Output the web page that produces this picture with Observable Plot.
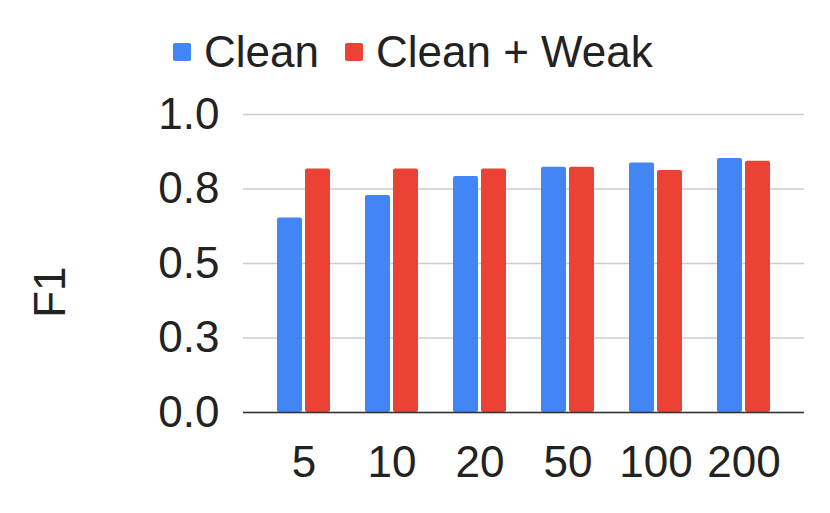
<!DOCTYPE html>
<html><head><meta charset="utf-8">
<script src="https://cdn.jsdelivr.net/npm/d3@7"></script>
<script src="https://cdn.jsdelivr.net/npm/@observablehq/plot@0.6"></script>
<style>
body{margin:0;background:#fff;font-family:Arial,"Liberation Sans",sans-serif;}
#legend{box-sizing:border-box;height:82px;padding-top:22px;padding-left:173px;display:flex;}
.item{display:flex;align-items:center;height:60px;margin-right:26px;}
.sw{width:18px;height:18px;border-radius:2px;margin-right:13px;}
.lab{font-size:44px;color:#222;line-height:60px;}
</style></head><body>
<div id="legend"></div>
<div id="chart"></div>
<script>
const groups = ["5","10","20","50","100","200"];
const seriesNames = ["Clean","Clean + Weak"];
const cleanValues = [0.653,0.728,0.792,0.823,0.837,0.852];
const weakValues  = [0.817,0.817,0.817,0.823,0.812,0.843];
const seriesColors = ["#4285F4","#EA4335"];
const yTicks = [0,0.25,0.5,0.75,1];
const yLabel = "F1";

const rows = [];
groups.forEach((g,i)=>{
  rows.push({group:g, series:seriesNames[0], value:cleanValues[i]});
  rows.push({group:g, series:seriesNames[1], value:weakValues[i]});
});

const legend = document.getElementById("legend");
seriesNames.forEach((s,i)=>{
  const it = document.createElement("div"); it.className="item";
  const sw = document.createElement("div"); sw.className="sw"; sw.style.background=seriesColors[i];
  const lb = document.createElement("span"); lb.className="lab"; lb.textContent=s;
  it.appendChild(sw); it.appendChild(lb); legend.appendChild(it);
});

const chart = Plot.plot({
  width: 830,
  height: 431,
  marginTop: 32,
  marginBottom: 101,
  marginLeft: 243,
  marginRight: 26,
  style: {fontSize: "44px", fontFamily: "Arial, 'Liberation Sans', sans-serif", color: "#222", background: "#fff"},
  x: {domain: groups, paddingInner: 0.718, paddingOuter: 0.52},
  y: {domain: [0,1]},
  color: {domain: seriesNames, range: seriesColors},
  marks: [
    Plot.gridY(yTicks, {stroke: "#ccc", strokeOpacity: 1, strokeWidth: 1.5}),
    Plot.axisY(yTicks, {tickFormat: d => d.toFixed(1), tickSize: 0, tickPadding: 24, label: null, fill: "#222"}),
    Plot.axisX({tickSize: 0, tickPadding: 33, label: null, fill: "#222"}),
    Plot.barY(rows.filter(d=>d.series===seriesNames[0]), {x:"group", y:"value", fill:"series", dx:-14, rx:2}),
    Plot.barY(rows.filter(d=>d.series===seriesNames[1]), {x:"group", y:"value", fill:"series", dx:14, rx:2}),
    Plot.ruleY([0], {stroke:"#333", strokeWidth:1.5}),
    Plot.text([yLabel], {frameAnchor:"left", text:d=>d, rotate:-90, textAnchor:"end", dx:-193, dy:3, fontSize:44, fill:"#222"})
  ]
});
document.getElementById("chart").appendChild(chart);
</script>
</body></html>
